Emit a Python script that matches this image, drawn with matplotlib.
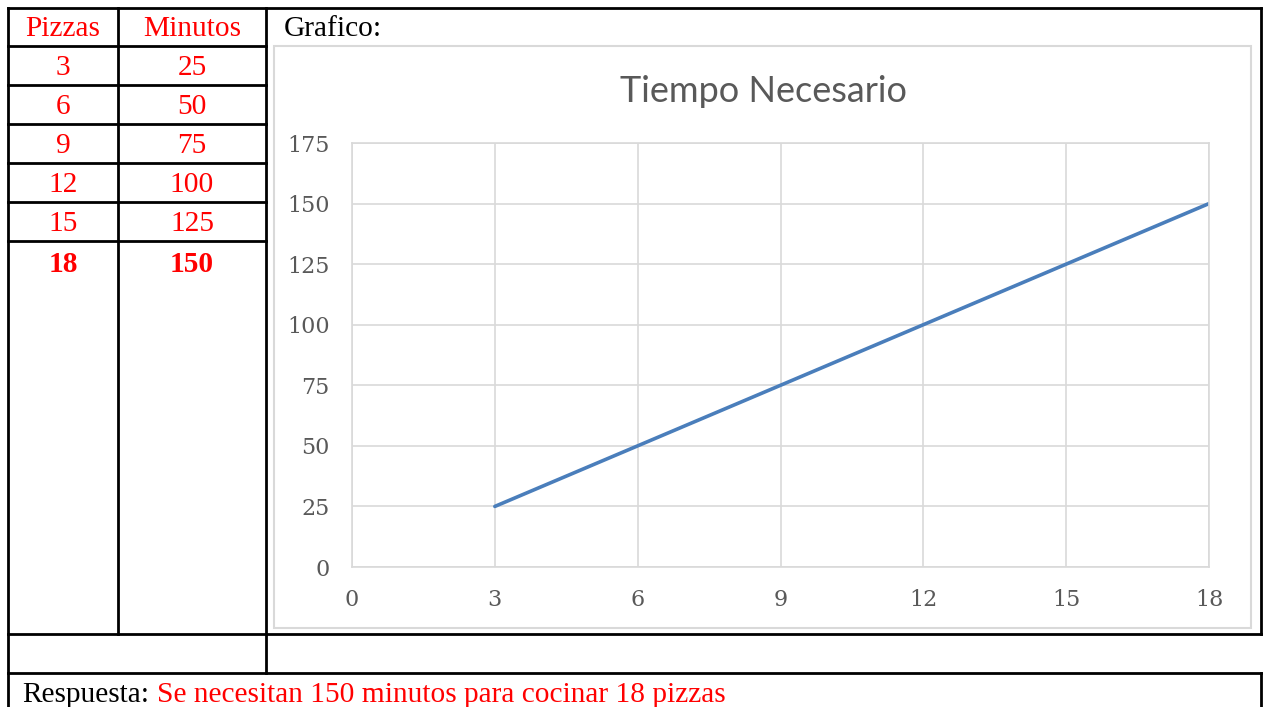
import matplotlib
matplotlib.use('Agg')
import matplotlib.pyplot as plt

pizzas = [3, 6, 9, 12, 15, 18]
minutos = [25, 50, 75, 100, 125, 150]
xticks = [0, 3, 6, 9, 12, 15, 18]
yticks = [0, 25, 50, 75, 100, 125, 150, 175]
headers = ['Pizzas', 'Minutos']
chartTitle = 'Tiempo Necesario'
respuesta = 'Se necesitan 150 minutos para cocinar 18 pizzas'

W, H = 1265, 707
fig = plt.figure(figsize=(W / 100, H / 100), dpi=100)

# page layer in pixel coordinates
page = fig.add_axes([0, 0, 1, 1])
page.set_xlim(0, W)
page.set_ylim(H, 0)
page.axis('off')

serif = 'Liberation Serif'
red = '#ff0000'
lw = 2.0
fs = 21.2

def hline(y, x0, x1):
    page.plot([x0, x1], [y, y], color='black', lw=lw, solid_capstyle='projecting')

def vline(x, y0, y1):
    page.plot([x, x], [y0, y1], color='black', lw=lw, solid_capstyle='projecting')

# table grid
rowLines = [46, 85, 124, 163, 202, 241]
hline(8, 8, 1261)
for y in rowLines:
    hline(y, 8, 266)
hline(634, 8, 1261)
hline(673, 8, 1261)
vline(8, 8, 707)
vline(118, 8, 634)
vline(266, 8, 673)
vline(1261, 8, 634)
vline(1261, 673, 707)

colCenters = [63, 192]
for cx, h in zip(colCenters, headers):
    page.text(cx, 29, h, color=red, fontsize=fs, family=serif, ha='center', va='center')

rowCenters = [68, 107, 146, 185, 224, 264]
for i, (p, m) in enumerate(zip(pizzas, minutos)):
    weight = 'bold' if i == len(pizzas) - 1 else 'normal'
    page.text(colCenters[0], rowCenters[i], str(p), color=red, fontsize=fs, family=serif,
              ha='center', va='center', fontweight=weight)
    page.text(colCenters[1], rowCenters[i], str(m), color=red, fontsize=fs, family=serif,
              ha='center', va='center', fontweight=weight)

page.text(284, 29, 'Grafico:', color='black', fontsize=fs, family=serif, ha='left', va='center')
page.text(22, 695, 'Respuesta:', color='black', fontsize=fs, family=serif, ha='left', va='center')
page.text(157, 695, respuesta, color=red, fontsize=fs, family=serif, ha='left', va='center')

# chart frame
page.add_patch(plt.Rectangle((274, 46), 1251 - 274, 628 - 46, fill=False,
                             edgecolor='#d9d9d9', lw=1.5))
page.text(763, 92, chartTitle, color='#595959', fontsize=26, family='Lato',
          ha='center', va='center')

# chart
x0, x1, yt, yb = 352, 1209, 143, 567
ax = fig.add_axes([x0 / W, 1 - yb / H, (x1 - x0) / W, (yb - yt) / H])
ax.plot(pizzas, minutos, color='#4a7ebb', lw=2.6, solid_capstyle='round')
ax.set_xlim(0, 18)
ax.set_ylim(0, 175)
ax.set_xticks(xticks)
ax.set_yticks(yticks)
ax.grid(True, color='#d9d9d9', lw=1.2)
ax.set_axisbelow(True)
for s in ax.spines.values():
    s.set_color('#d9d9d9')
    s.set_linewidth(1.2)
ax.tick_params(length=0, labelcolor='#595959', labelsize=16, pad=16)
for lab in ax.get_xticklabels() + ax.get_yticklabels():
    lab.set_family('DejaVu Serif')
ax.set_facecolor('none')

fig.savefig('out.png', dpi=100)
